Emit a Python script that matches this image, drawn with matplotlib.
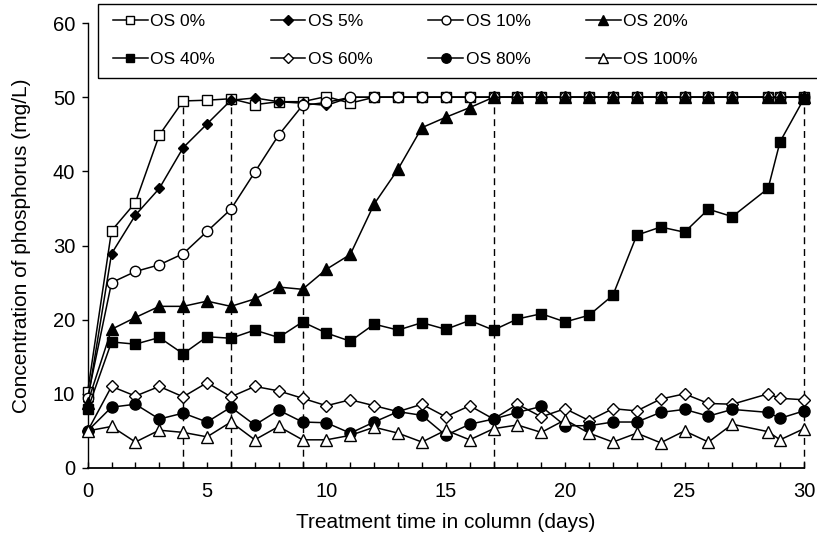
import matplotlib
matplotlib.use("Agg")
import matplotlib.pyplot as plt
from matplotlib.ticker import MultipleLocator
from matplotlib.patches import Rectangle

plt.rcParams['font.family'] = ['Liberation Sans', 'DejaVu Sans']

days = [0, 1, 2, 3, 4, 5, 6, 7, 8, 9, 10, 11, 12, 13, 14, 15, 16, 17, 18, 19,
        20, 21, 22, 23, 24, 25, 26, 27, 28.5, 29, 30]

os0 = [10.3, 32.0, 35.8, 44.9, 49.5, 49.6, 49.8, 49.0, 49.4, 49.4, 50.1, 49.2, 50, 50, 50, 50,
       50, 50, 50, 50, 50, 50, 50, 50, 50, 50, 50, 50, 50, 50, 50]
os5 = [9.0, 28.9, 34.1, 37.7, 43.2, 46.4, 49.6, 49.9, 49.4, 49.2, 48.9, 50, 50, 50, 50, 50,
       50, 50, 50, 50, 50, 50, 50, 50, 50, 50, 50, 50, 50, 50, 50]
os10 = [9.5, 25.0, 26.5, 27.4, 28.9, 31.9, 34.9, 39.9, 44.9, 48.9, 49.3, 50, 50, 50, 50, 50,
        50, 50, 50, 50, 50, 50, 50, 50, 50, 50, 50, 50, 50, 50, 50]
os20 = [8.8, 18.7, 20.3, 21.8, 21.8, 22.5, 21.8, 22.8, 24.4, 24.1, 26.8, 28.8, 35.6, 40.3, 45.9,
        47.3, 48.6, 50, 50, 50, 50, 50, 50, 50, 50, 50, 50, 50, 50, 50, 50]
os40 = [7.9, 17.0, 16.7, 17.6, 15.4, 17.7, 17.5, 18.6, 17.6, 19.7, 18.2, 17.1, 19.4, 18.6, 19.6,
        18.7, 19.9, 18.6, 20.1, 20.8, 19.7, 20.6, 23.3, 31.4, 32.5, 31.8, 34.9, 33.9, 37.7, 44.0, 49.8]
os60 = [5.0, 11.0, 9.7, 11.0, 9.6, 11.5, 9.6, 11.0, 10.4, 9.4, 8.4, 9.2, 8.4, 7.6, 8.6, 6.9,
        8.4, 6.6, 8.6, 6.9, 8.0, 6.4, 8.0, 7.7, 9.3, 10.0, 8.7, 8.6, 10.0, 9.4, 9.2]
os80 = [5.0, 8.2, 8.6, 6.6, 7.4, 6.2, 8.2, 5.8, 7.8, 6.2, 6.1, 4.7, 6.2, 7.6, 7.1, 4.4,
        5.9, 6.6, 7.5, 8.3, 5.7, 5.7, 6.2, 6.2, 7.5, 7.9, 7.0, 7.9, 7.5, 6.7, 7.7]
os100 = [5.0, 5.6, 3.5, 5.1, 4.8, 4.2, 6.2, 3.8, 5.6, 3.8, 3.8, 4.4, 5.5, 4.7, 3.5, 5.1,
         3.8, 5.3, 5.8, 4.8, 6.5, 4.7, 3.5, 4.7, 3.4, 5.0, 3.5, 5.9, 4.9, 3.8, 5.3]

labels = ['OS 0%', 'OS 5%', 'OS 10%', 'OS 20%', 'OS 40%', 'OS 60%', 'OS 80%', 'OS 100%']
series = [os0, os5, os10, os20, os40, os60, os80, os100]

vline_days = [4, 6, 9, 17, 30]
vline_top = 50

styles = [
    dict(marker='s', mfc='white', ms=7),
    dict(marker='D', mfc='black', ms=5.5),
    dict(marker='o', mfc='white', ms=7.5),
    dict(marker='^', mfc='black', ms=8),
    dict(marker='s', mfc='black', ms=7.5),
    dict(marker='D', mfc='white', ms=6),
    dict(marker='o', mfc='black', ms=8),
    dict(marker='^', mfc='white', ms=8),
]

fig = plt.figure(figsize=(8.17, 5.37), dpi=100)
ax = fig.add_axes([0.1073, 0.1285, 0.8767, 0.8285])

for xv in vline_days:
    ax.plot([xv, xv], [0, vline_top], color='black', lw=1.0, ls=(0, (5, 3.5)),
            zorder=1, clip_on=False)

handles = []
for vals, lab, st in zip(series, labels, styles):
    h, = ax.plot(days, vals, color='black', lw=1.1, marker=st['marker'],
                 mfc=st['mfc'], mec='black', mew=1.0, ms=st['ms'], label=lab,
                 zorder=3, clip_on=False)
    handles.append(h)

ax.set_xlim(0, 30)
ax.set_ylim(0, 60)
ax.xaxis.set_major_locator(MultipleLocator(5))
ax.xaxis.set_minor_locator(MultipleLocator(1))
ax.yaxis.set_major_locator(MultipleLocator(10))
ax.tick_params(axis='x', which='both', direction='in', length=4, width=1, labelsize=14.5, pad=10)
ax.tick_params(axis='y', which='major', direction='out', length=4, width=1, labelsize=14.5, pad=5)
ax.spines['top'].set_visible(False)
ax.spines['right'].set_visible(False)
ax.spines['left'].set_linewidth(1.0)
ax.spines['bottom'].set_linewidth(1.3)

ax.set_xlabel('Treatment time in column (days)', fontsize=15, labelpad=9)
ax.set_ylabel('Concentration of phosphorus (mg/L)', fontsize=15, labelpad=16)

# legend: row-wise order (matplotlib fills columns first)
order = [0, 4, 1, 5, 2, 6, 3, 7]
leg = fig.legend(handles=[handles[i] for i in order], labels=[labels[i] for i in order],
                 ncol=4, loc='upper left', bbox_to_anchor=(113 / 817, 1 - 14 / 537),
                 bbox_transform=fig.transFigure, fontsize=12.5, frameon=False,
                 handlelength=2.0, handletextpad=0.15, columnspacing=3.2,
                 markerscale=0.85, borderaxespad=0, borderpad=0, labelspacing=1.3)
fig.patches.append(Rectangle((98 / 817, 1 - 78 / 537), 1.0, 74 / 537,
                             transform=fig.transFigure, fill=False,
                             edgecolor='black', linewidth=1.0))

fig.savefig('out.png', dpi=100)
